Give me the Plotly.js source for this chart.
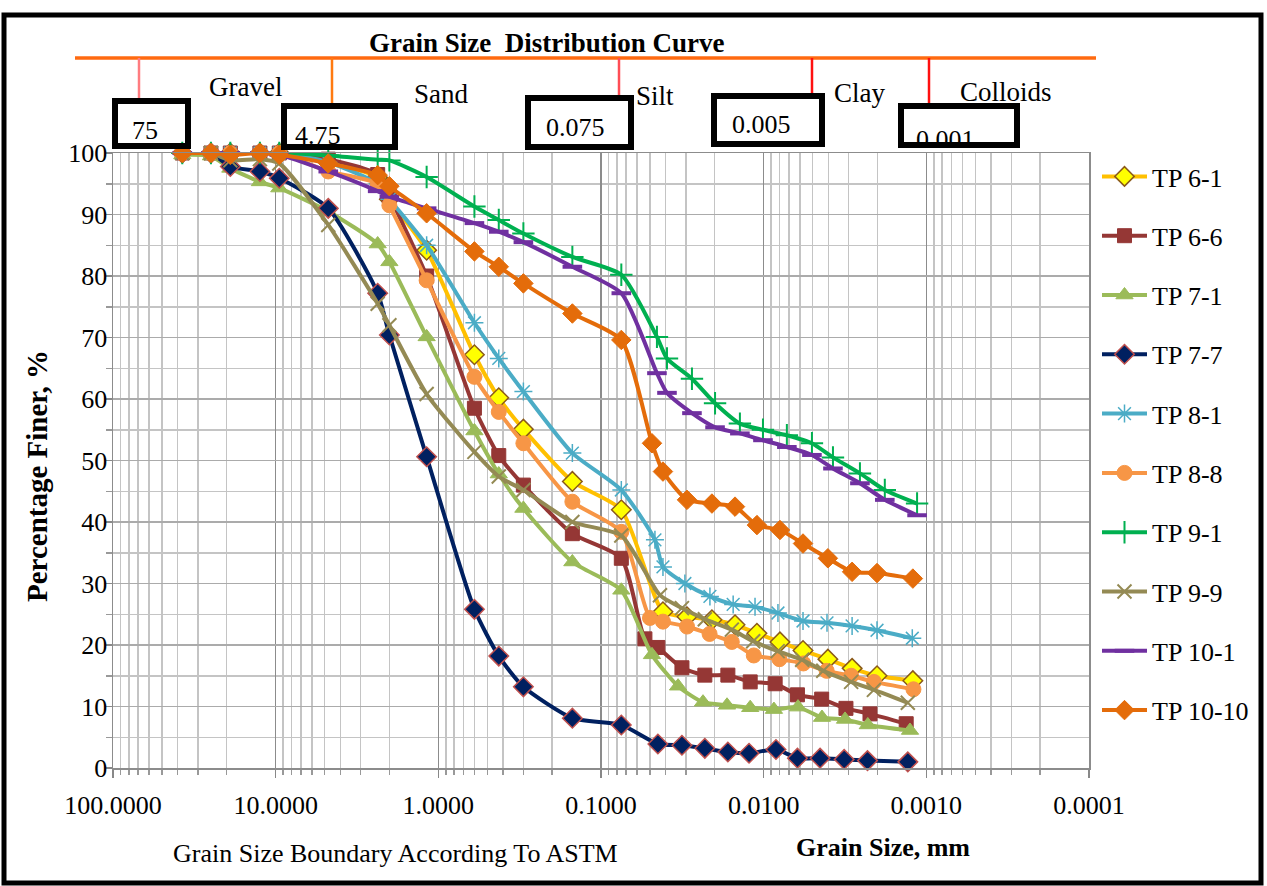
<!DOCTYPE html>
<html>
<head>
<meta charset="utf-8">
<script src="https://cdn.plot.ly/plotly-3.0.1.min.js"></script>
<style>html,body{margin:0;padding:0;background:#fff;}#chart{width:1267px;height:886px;}</style>
</head>
<body>
<div id="chart"></div>
<script>
// ---------- DATA ----------
const seriesNames = ["TP 6-1","TP 6-6","TP 7-1","TP 7-7","TP 8-1","TP 8-8","TP 9-1","TP 9-9","TP 10-1","TP 10-10"];
const sieveSizes = [37.5, 25, 19, 12.5, 9.5, 4.75, 2.36, 2.0, 1.18, 0.6, 0.425, 0.3, 0.15, 0.075];

const tp61Sieve = [100, 100, 100, 100, 100, 98.5, 96.0, 92.5, 84.2, 67.2, 60.2, 55.1, 46.6, 42.0];
const tp61HydD = [0.0416, 0.0296, 0.0208, 0.0150, 0.0110, 0.00794, 0.00573, 0.00403, 0.00286, 0.00201, 0.00121];
const tp61HydP = [25.4, 24.6, 24.1, 23.3, 21.9, 20.5, 19.1, 17.7, 16.2, 15.0, 14.2];

const tp66Sieve = [100, 100, 100, 100, 100, 99.0, 96.5, 93.0, 80.0, 58.5, 50.8, 46.0, 38.1, 34.1];
const tp66HydD = [0.0537, 0.0447, 0.0318, 0.0230, 0.0166, 0.0121, 0.0085, 0.0062, 0.0044, 0.00312, 0.00222, 0.00133];
const tp66HydP = [21.0, 19.6, 16.3, 15.1, 15.1, 14.0, 13.7, 11.9, 11.2, 9.7, 8.8, 7.2];

const tp71Sieve = [99.7, 99.5, 97.5, 95.3, 94.3, 90.5, 85.2, 82.3, 70.1, 54.8, 47.8, 42.2, 33.5, 28.9];
const tp71HydD = [0.0486, 0.0336, 0.0236, 0.0168, 0.0121, 0.00865, 0.00615, 0.00438, 0.00316, 0.00229, 0.00126];
const tp71HydP = [18.4, 13.3, 10.7, 10.2, 9.8, 9.5, 9.9, 8.2, 7.9, 7.0, 6.1];

const tp77Sieve = [100, 100, 97.8, 97.0, 95.9, 91.0, 77.2, 70.4, 50.6, 25.8, 18.2, 13.2, 8.1, 7.0];
const tp77HydD = [0.0447, 0.0318, 0.0230, 0.0166, 0.0123, 0.0084, 0.0062, 0.0045, 0.0032, 0.0023, 0.0013];
const tp77HydP = [3.9, 3.7, 3.2, 2.6, 2.4, 3.0, 1.6, 1.6, 1.4, 1.2, 1.0];

const tp81Sieve = [100, 100, 100, 100, 100, 98.5, 95.0, 92.5, 85.0, 72.4, 66.6, 61.2, 51.2, 45.2];
const tp81HydD = [0.0466, 0.0416, 0.0305, 0.0214, 0.0154, 0.0113, 0.00817, 0.00573, 0.00408, 0.00286, 0.00201, 0.00122];
const tp81HydP = [37.1, 32.7, 30.0, 27.9, 26.6, 26.2, 25.2, 23.9, 23.6, 23.1, 22.4, 21.1];

const tp88Sieve = [100, 100, 100, 100, 100, 97.0, 95.0, 91.5, 79.3, 63.6, 57.9, 52.8, 43.3, 38.4];
const tp88HydD = [0.050, 0.0416, 0.0296, 0.0215, 0.0157, 0.0115, 0.0080, 0.0057, 0.0041, 0.0029, 0.0021, 0.0012];
const tp88HydP = [24.4, 23.8, 23.0, 21.8, 20.5, 18.3, 17.7, 17.0, 15.8, 15.0, 14.0, 12.8];

const tp91Sieve = [100, 100, 100, 100, 100, 99.6, 98.9, 98.8, 96.1, 91.3, 89.1, 86.9, 83.1, 80.2];
const tp91HydD = [0.0453, 0.0393, 0.0276, 0.0199, 0.0140, 0.0101, 0.0072, 0.00505, 0.00375, 0.00256, 0.00180, 0.00114];
const tp91HydP = [70.1, 66.6, 63.3, 59.3, 56.0, 55.0, 54.1, 52.8, 50.5, 47.9, 45.2, 43.0];

const tp99Sieve = [100, 100, 98.8, 99.0, 98.3, 88.3, 75.5, 72.0, 60.8, 51.4, 47.4, 45.2, 40.0, 37.8];
const tp99HydD = [0.0434, 0.0318, 0.0230, 0.0157, 0.0116, 0.0082, 0.0058, 0.0043, 0.0029, 0.0021, 0.0013];
const tp99HydP = [28.1, 26.0, 24.2, 22.5, 20.6, 19.0, 17.6, 15.8, 14.0, 12.7, 10.6];

const tp101Sieve = [100, 100, 100, 100, 99.7, 97.0, 93.8, 92.9, 91.0, 88.6, 87.2, 85.5, 81.5, 77.2];
const tp101HydD = [0.0453, 0.0393, 0.0276, 0.0199, 0.0140, 0.0101, 0.0072, 0.00505, 0.00375, 0.00256, 0.00180, 0.00114];
const tp101HydP = [64.2, 61.0, 57.7, 55.4, 54.4, 53.3, 52.2, 50.9, 48.7, 46.3, 43.6, 41.1];

const tp1010Sieve = [100, 100, 99.7, 100, 99.7, 98.3, 96.4, 94.6, 90.2, 84.0, 81.5, 78.8, 73.9, 69.6];
const tp1010HydD = [0.0486, 0.0416, 0.0296, 0.0208, 0.0150, 0.0110, 0.00794, 0.00573, 0.00403, 0.00286, 0.00201, 0.00121];
const tp1010HydP = [52.8, 48.2, 43.6, 43.0, 42.5, 39.5, 38.7, 36.5, 34.1, 31.9, 31.7, 30.8];

const xTickVals = [100, 10, 1, 0.1, 0.01, 0.001, 0.0001];
const xTickText = ["100.0000", "10.0000", "1.0000", "0.1000", "0.0100", "0.0010", "0.0001"];
const boundaryLabels = ["75", "4.75", "0.075", "0.005", "0.001"];
const zoneLabels = ["Gravel", "Sand", "Silt", "Clay", "Colloids"];

// ---------- STYLES ----------
const styles = [
  {line:"#FFC000", marker:{symbol:"diamond", size:15, color:"#FFFF00", line:{color:"#8B5A1A", width:1.5}}},
  {line:"#953735", marker:{symbol:"square", size:14, color:"#953735", line:{color:"#953735", width:1}}},
  {line:"#9BBB59", marker:{symbol:"triangle-up", size:15, color:"#9BBB59", line:{color:"#9BBB59", width:1}}},
  {line:"#002060", marker:{symbol:"diamond", size:15, color:"#002060", line:{color:"#C0504D", width:1.5}}},
  {line:"#4BACC6", marker:{symbol:"asterisk-open", size:15, color:"#4BACC6", line:{color:"#4BACC6", width:1.5}}},
  {line:"#F79646", marker:{symbol:"circle", size:15, color:"#F79646", line:{color:"#F79646", width:1}}},
  {line:"#00B050", marker:{symbol:"cross-thin-open", size:16, color:"#00B050", line:{color:"#00B050", width:2}}},
  {line:"#948A54", marker:{symbol:"x-thin-open", size:14, color:"#948A54", line:{color:"#948A54", width:2}}},
  {line:"#7030A0", marker:{symbol:"line-ew-open", size:14, color:"#7030A0", line:{color:"#7030A0", width:4}}},
  {line:"#E46C0A", marker:{symbol:"diamond", size:15, color:"#E46C0A", line:{color:"#E46C0A", width:1}}}
];

const sieveSets = [tp61Sieve, tp66Sieve, tp71Sieve, tp77Sieve, tp81Sieve, tp88Sieve, tp91Sieve, tp99Sieve, tp101Sieve, tp1010Sieve];
const hydD = [tp61HydD, tp66HydD, tp71HydD, tp77HydD, tp81HydD, tp88HydD, tp91HydD, tp99HydD, tp101HydD, tp1010HydD];
const hydP = [tp61HydP, tp66HydP, tp71HydP, tp77HydP, tp81HydP, tp88HydP, tp91HydP, tp99HydP, tp101HydP, tp1010HydP];

const traces = seriesNames.map((name, i) => ({
  type: "scatter",
  mode: "lines+markers",
  name: name,
  legendgroup: "g" + i,
  x: sieveSizes.concat(hydD[i]),
  y: sieveSets[i].concat(hydP[i]),
  line: {color: styles[i].line, width: 4, shape: "spline", smoothing: 0.6},
  marker: styles[i].marker,
  cliponaxis: false
}));

// ---------- LAYOUT HELPERS (pixel -> paper) ----------
const W = 1267, H = 886, ML = 113, MR = 178, MT = 153, MB = 118;
const PW = W - ML - MR, PH = H - MT - MB;
const px = v => (v - ML) / PW;
const py = v => (H - MB - v) / PH;

const serif = "Liberation Serif, Times New Roman, serif";

const minorVals = [];
for (let e = -4; e < 2; e++) for (let k = 2; k <= 9; k++) minorVals.push(k * Math.pow(10, e));

const shapes = [];
// outer frame
shapes.push({type:"rect", xref:"paper", yref:"paper", x0:px(4), x1:px(1261), y0:py(883), y1:py(15), line:{color:"#000", width:5}, layer:"above"});
// orange header line
shapes.push({type:"line", xref:"paper", yref:"paper", x0:px(75), x1:px(1096), y0:py(58), y1:py(58), line:{color:"#FF6A10", width:3.5}, layer:"above"});
// boundary verticals
const vlines = [[139, 100, "#FF7C80"], [332, 103, "#FF7A10"], [619, 95, "#FF4D55"], [812, 93, "#FF1010"], [929, 103, "#FF1010"]];
vlines.forEach(v => shapes.push({type:"line", xref:"paper", yref:"paper", x0:px(v[0]), x1:px(v[0]), y0:py(58), y1:py(v[1]), line:{color:v[2], width:2.5}, layer:"above"}));
// boxes
const boxes = [[115, 188, 101, 146], [284, 395, 106, 147], [528, 631, 98, 147], [714, 822, 96, 144], [901, 1017, 106, 145]];
boxes.forEach(b => shapes.push({type:"rect", xref:"paper", yref:"paper", x0:px(b[0]), x1:px(b[1]), y0:py(b[3]), y1:py(b[2]), line:{color:"#000", width:6}, fillcolor:"rgba(255,255,255,0)", layer:"above"}));

const annotations = [];
annotations.push({xref:"paper", yref:"paper", x:px(547), y:py(43), text:"<b>Grain Size&nbsp; Distribution Curve</b>", showarrow:false, font:{family:serif, size:27, color:"#000"}, xanchor:"center", yanchor:"middle"});
const zonePos = [[245, 87], [441, 94], [655, 96], [859, 93], [1006, 92]];
zoneLabels.forEach((t, i) => annotations.push({xref:"paper", yref:"paper", x:px(zonePos[i][0]), y:py(zonePos[i][1]), text:t, showarrow:false, font:{family:serif, size:27, color:"#000"}, xanchor:"center", yanchor:"middle"}));
const boxTextPos = [[145, 131], [318, 135], [575, 128], [761, 124], [945, 139]];
boundaryLabels.forEach((t, i) => annotations.push({xref:"paper", yref:"paper", x:px(boxTextPos[i][0]), y:py(boxTextPos[i][1]), text:t, showarrow:false, font:{family:serif, size:26, color:"#000"}, xanchor:"center", yanchor:"middle"}));
annotations.push({xref:"paper", yref:"paper", x:px(37), y:py(476), text:"<b>Percentage Finer, %</b>", textangle:-90, showarrow:false, font:{family:serif, size:29, color:"#000"}, xanchor:"center", yanchor:"middle"});
annotations.push({xref:"paper", yref:"paper", x:px(395), y:py(853), text:"Grain Size Boundary According To ASTM", showarrow:false, font:{family:serif, size:26, color:"#000"}, xanchor:"center", yanchor:"middle"});
annotations.push({xref:"paper", yref:"paper", x:px(883), y:py(847), text:"<b>Grain Size, mm</b>", showarrow:false, font:{family:serif, size:26, color:"#000"}, xanchor:"center", yanchor:"middle"});

const layout = {
  width: W, height: H,
  margin: {l: ML, r: MR, t: MT, b: MB, pad: 0},
  paper_bgcolor: "#fff", plot_bgcolor: "#fff",
  font: {family: serif, color: "#000"},
  showlegend: true,
  legend: {x: px(1097), y: py(153), xanchor: "left", yanchor: "top", font: {family: serif, size: 26, color: "#000"},
           tracegroupgap: 22.5, itemwidth: 45, bgcolor: "rgba(255,255,255,0)", borderwidth: 0},
  xaxis: {
    type: "log", range: [2, -4], autorange: false,
    tickmode: "array", tickvals: xTickVals, ticktext: xTickText,
    tickfont: {family: serif, size: 26, color: "#000"},
    ticks: "outside", ticklen: 8, tickcolor: "#888", tickwidth: 1.5,
    ticklabelstandoff: 5,
    showgrid: true, gridcolor: "#8C8C8C", gridwidth: 1.5,
    showline: true, linecolor: "#8C8C8C", linewidth: 1.5, mirror: true,
    zeroline: false,
    minor: {tickmode: "array", tickvals: minorVals, showgrid: true, gridcolor: "#C4C4C4", gridwidth: 1.5, ticks: "outside", ticklen: 5, tickcolor: "#999"}
  },
  yaxis: {
    range: [0, 100], autorange: false, tick0: 0, dtick: 10,
    tickfont: {family: serif, size: 26, color: "#000"},
    ticks: "outside", ticklen: 6, tickcolor: "#888", tickwidth: 1.5,
    ticklabelstandoff: -7,
    showgrid: true, gridcolor: "#ABABAB", gridwidth: 1.5,
    showline: true, linecolor: "#8C8C8C", linewidth: 1.5, mirror: true,
    zeroline: false,
    minor: {dtick: 5, showgrid: true, gridcolor: "#C4C4C4", gridwidth: 1.5, ticks: "outside", ticklen: 6, tickcolor: "#999"}
  },
  shapes: shapes,
  annotations: annotations
};

Plotly.newPlot("chart", traces, layout, {staticPlot: true, displayModeBar: false});
</script>
</body>
</html>
